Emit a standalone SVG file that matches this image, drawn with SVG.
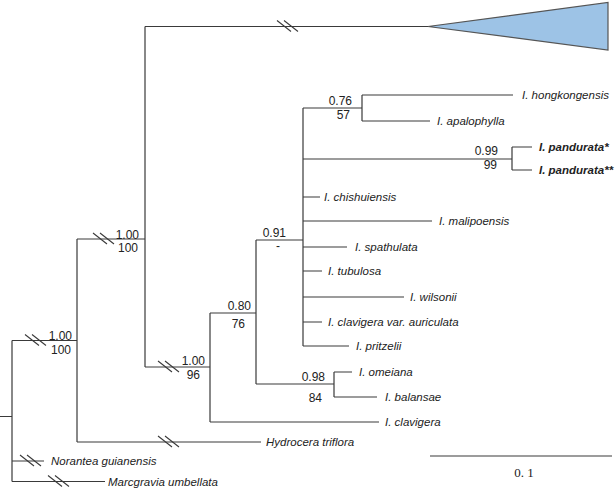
<svg xmlns="http://www.w3.org/2000/svg" xmlns:xlink="http://www.w3.org/1999/xlink" width="615" height="490" viewBox="0 0 615 490">
<style>
.br{fill:none;stroke:#3a3a3a;stroke-width:1.2}
.sp{font-family:"Liberation Sans",Arial,sans-serif;font-style:italic;font-size:11.5px;fill:#222}
.b{font-weight:bold}
.su{font-family:"Liberation Sans",Arial,sans-serif;font-size:12px;fill:#222;text-anchor:end}
.sc{font-family:"Liberation Serif","Times New Roman",serif;font-size:13px;fill:#222;text-anchor:middle}
</style>
<defs>
<path id="brk" d="M-11,-6 L3,5 M-4,-6 L10,5" fill="none" stroke="#3a3a3a" stroke-width="1.1"/>
</defs>
<rect width="615" height="490" fill="#fff"/>
<g id="connectors" class="br">
<path d="M0,416.5 H12 M12,340.5 V481.5 M12,340.5 H77 M12,461 H44 M12,481.5 H105"/>
<path d="M77,239 V442 M77,442 H261 M77,239 H145"/>
<path d="M145,26.5 V367 M145,26.5 H428 M145,367 H210"/>
<path d="M210,313 V422 M210,422 H379 M210,313 H256"/>
<path d="M256,240 V384 M256,384 H334 M334,372 V397 M334,372 H352 M334,397 H377"/>
<path d="M256,240 H303 M303,108 V346"/>
<path d="M303,108 H362 M362,95 V121 M362,95 H513 M362,121 H430"/>
<path d="M303,159 H512 M512,147 V170 M512,147 H532 M512,170 H532"/>
<path d="M303,197 H320 M303,221 H432 M303,247 H347 M303,271 H322 M303,297 H404 M303,322 H322 M303,346 H349"/>
<use xlink:href="#brk" x="288" y="26.5"/>
<use xlink:href="#brk" x="104" y="239"/>
<use xlink:href="#brk" x="36" y="340.5"/>
<use xlink:href="#brk" x="169" y="367"/>
<use xlink:href="#brk" x="169" y="442"/>
<use xlink:href="#brk" x="31" y="461"/>
<use xlink:href="#brk" x="59" y="481.5"/>
</g>
<g id="collapsed-clade">
<polygon points="428,26.5 608,2.5 608,50" fill="#9dc3e6" stroke="#555" stroke-width="1.2"/>
</g>
<g id="support">
<text class="su" x="72" y="340">1.00</text><text class="su" x="71" y="354">100</text>
<text class="su" x="139" y="238.5">1.00</text><text class="su" x="138" y="252">100</text>
<text class="su" x="205" y="365">1.00</text><text class="su" x="200" y="379">96</text>
<text class="su" x="251" y="310">0.80</text><text class="su" x="245" y="328">76</text>
<text class="su" x="286" y="237">0.91</text><text class="su" x="280" y="250">-</text>
<text class="su" x="352" y="105">0.76</text><text class="su" x="350" y="119">57</text>
<text class="su" x="498" y="155">0.99</text><text class="su" x="497" y="169">99</text>
<text class="su" x="325" y="381">0.98</text><text class="su" x="322" y="402">84</text>
</g>
<g id="n-hongkongensis"><text class="sp" x="522" y="99">I. hongkongensis</text></g>
<g id="n-apalophylla"><text class="sp" x="437" y="125">I. apalophylla</text></g>
<g id="n-pandurata1"><text class="sp b" x="539" y="151">I. pandurata*</text></g>
<g id="n-pandurata2"><text class="sp b" x="539" y="174">I. pandurata**</text></g>
<g id="n-chishuiensis"><text class="sp" x="324" y="201">I. chishuiensis</text></g>
<g id="n-malipoensis"><text class="sp" x="439" y="225">I. malipoensis</text></g>
<g id="n-spathulata"><text class="sp" x="355" y="251">I. spathulata</text></g>
<g id="n-tubulosa"><text class="sp" x="328" y="275">I. tubulosa</text></g>
<g id="n-wilsonii"><text class="sp" x="410" y="301">I. wilsonii</text></g>
<g id="n-auriculata"><text class="sp" x="328" y="326">I. clavigera var. auriculata</text></g>
<g id="n-pritzelii"><text class="sp" x="356" y="350">I. pritzelii</text></g>
<g id="n-omeiana"><text class="sp" x="359" y="376">I. omeiana</text></g>
<g id="n-balansae"><text class="sp" x="385" y="401">I. balansae</text></g>
<g id="n-clavigera"><text class="sp" x="385" y="426">I. clavigera</text></g>
<g id="n-hydrocera"><text class="sp" x="266" y="446">Hydrocera triflora</text></g>
<g id="n-norantea"><text class="sp" x="51" y="465">Norantea guianensis</text></g>
<g id="n-marcgravia"><text class="sp" x="108" y="485.5">Marcgravia umbellata</text></g>
<g id="scale">
<path d="M430,456 H612" class="br"/>
<text class="sc" x="524" y="477">0. 1</text>
</g>
</svg>
